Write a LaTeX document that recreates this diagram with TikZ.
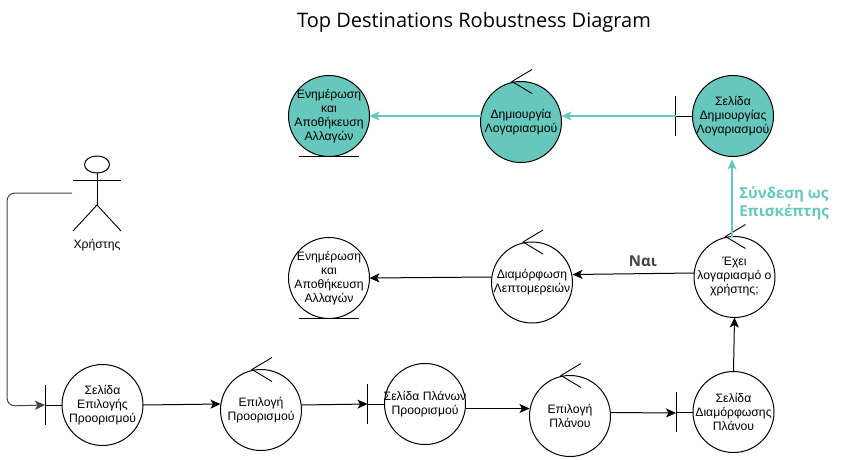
\documentclass[tikz,border=0pt]{standalone}
\usepackage{fontspec}
\usepackage{xcolor}
\setmainfont{Liberation Sans}
\newfontfamily\opensans{Open Sans}
\usetikzlibrary{arrows.meta,positioning,shapes.geometric}
\definecolor{tealfill}{HTML}{66C8BC}
\definecolor{labelgray}{HTML}{444444}

\begin{document}
\begin{tikzpicture}[
    x=1pt, y=1pt,
    line width=1pt,
    robust/.style={circle, draw, minimum size=81pt, inner sep=-14pt, outer sep=0pt, align=center, font=\fontsize{12.2}{14}\selectfont, execute at begin node={\rule{0pt}{12.5pt}}},
    active/.style={fill=tealfill},
    glyph/.style={line width=0.9pt},
    flow/.style={-{Stealth[length=10pt,width=9pt,inset=2.5pt]}, line width=1pt},
    tealflow/.style={flow, draw=tealfill, line width=1.2pt},
    tag/.style={font=\opensans\bfseries\fontsize{15}{18}\selectfont, align=left}
]
\useasboundingbox (0,0) rectangle (852,-459);

\node[font=\opensans\fontsize{20}{24}\selectfont] (title) at (474,-22) {Top Destinations Robustness Diagram};

% Bottom row
\node[robust] (dest_page) at (102.5,-405) {Σελίδα\\Επιλογής\\Προορισμού};
\node[robust, right=77.5pt of dest_page, yshift=-5pt] (select_dest) {Επιλογή\\Προορισμού};
\node[robust, right=83pt of select_dest, yshift=6pt] (plan_page) {Σελίδα Πλάνων\\Προορισμού};
\node[robust, right=64pt of plan_page, yshift=-12pt] (select_plan) {Επιλογή\\Πλάνου};
\node[robust, right=82.5pt of select_plan, yshift=4pt] (config_page) {Σελίδα\\Διαμόρφωσης\\Πλάνου};

% Middle row
\node[robust, above=54pt of config_page, xshift=1pt] (has_account) {Έχει\\λογαριασμό ο\\χρήστης;};
\node[robust, left=121.5pt of has_account, yshift=-5.5pt] (set_details) {Διαμόρφωση\\Λεπτομερειών};
\node[robust, left=122pt of set_details, yshift=4.5pt] (save_changes) {Ενημέρωση\\και\\Αποθήκευση\\Αλλαγών};

% Top row
\node[robust, active, above=80pt of has_account, xshift=-1.5pt] (signup_page) {Σελίδα\\Δημιουργίας\\Λογαριασμού};
\node[robust, active, left=131pt of signup_page, yshift=-6pt] (create_account) {Δημιουργία\\Λογαριασμού};
\node[robust, active, left=111pt of create_account, yshift=6pt] (save_account) {Ενημέρωση\\και\\Αποθήκευση\\Αλλαγών};

% Actor
\node[ellipse, draw, minimum width=25pt, minimum height=17pt, inner sep=0pt, outer sep=0pt] (user_head) at (97,-164.5) {};
\coordinate (user_hip) at (97,-205);
\coordinate (user_out) at (72,-193);
\coordinate (user_bend) at (7,-406);
\node[font=\fontsize{12.2}{14}\selectfont] (user_label) at (97,-245) {Χρήστης};
\draw[glyph] (user_head.south) -- (user_hip);
\draw[glyph] (73,-180) -- (121,-180);
\draw[glyph] (73,-231) -- (user_hip) -- (121,-231);

% Boundary bars
\coordinate[left=17pt of dest_page] (dest_bar);
\coordinate[left=17pt of plan_page] (plan_bar);
\coordinate[left=17pt of config_page] (config_bar);
\coordinate[left=17pt of signup_page] (signup_bar);
\draw[glyph] ([yshift=20pt]dest_bar) -- ([yshift=-20pt]dest_bar);
\draw[glyph] ([yshift=20pt]plan_bar) -- ([yshift=-20pt]plan_bar);
\draw[glyph] ([yshift=20pt]config_bar) -- ([yshift=-20pt]config_bar);
\draw[glyph] ([yshift=20pt]signup_bar) -- ([yshift=-20pt]signup_bar);
\draw[glyph] (dest_bar) -- (dest_page);
\draw[glyph] (plan_bar) -- (plan_page);
\draw[glyph] (config_bar) -- (config_page);
\draw[glyph] (signup_bar) -- (signup_page);

% Control ticks
\draw[glyph] ([shift={(11pt,12pt)}]select_dest.north) -- ([shift={(-9pt,0pt)}]select_dest.north) -- ([shift={(11pt,-12pt)}]select_dest.north);
\draw[glyph] ([shift={(11pt,12pt)}]select_plan.north) -- ([shift={(-9pt,0pt)}]select_plan.north) -- ([shift={(11pt,-12pt)}]select_plan.north);
\draw[glyph] ([shift={(11pt,12pt)}]set_details.north) -- ([shift={(-9pt,0pt)}]set_details.north) -- ([shift={(11pt,-12pt)}]set_details.north);
\draw[glyph] ([shift={(11pt,12pt)}]has_account.north) -- ([shift={(-9pt,0pt)}]has_account.north) -- ([shift={(11pt,-12pt)}]has_account.north);
\draw[glyph] ([shift={(11pt,12pt)}]create_account.north) -- ([shift={(-9pt,0pt)}]create_account.north) -- ([shift={(11pt,-12pt)}]create_account.north);

% Entity underlines
\draw[glyph] ([xshift=-30pt]save_changes.south) -- ([xshift=30pt]save_changes.south);
\draw[glyph] ([xshift=-30pt]save_account.south) -- ([xshift=30pt]save_account.south);

% Connectors
\draw[flow, draw=labelgray, rounded corners=8pt] (user_out) -| (user_bend) -- (dest_bar);
\draw[flow] (dest_page.east) -- ([yshift=6pt]select_dest.west);
\draw[flow] ([yshift=5pt]select_dest.east) -- (plan_bar);
\draw[flow] ([yshift=-4.5pt]plan_page.east) -- ([yshift=7.5pt]select_plan.west);
\draw[flow] ([yshift=3.5pt]select_plan.east) -- ([yshift=-1pt]config_bar);
\draw[flow] (config_page.north) -- (has_account.south);
\draw[flow] ([yshift=4pt]has_account.west) -- node[tag, above=3pt, text=labelgray, pos=0.42] (yes_label) {Ναι} ([yshift=8pt]set_details.east);
\draw[flow] ([yshift=5.5pt]set_details.west) -- (save_changes.east);

\draw[tealflow] ([xshift=-2.5pt]has_account.north) -- ([xshift=-1pt,yshift=-3pt]signup_page.south);
\draw[tealflow] (signup_bar) -- (create_account.east |- signup_bar);
\draw[tealflow] ([yshift=6pt]create_account.west) -- (save_account.east);

\node[tag, text=tealfill, anchor=west] (guest_label) at (735.5,-203) {Σύνδεση ως\\Επισκέπτης};

\end{tikzpicture}
\end{document}
